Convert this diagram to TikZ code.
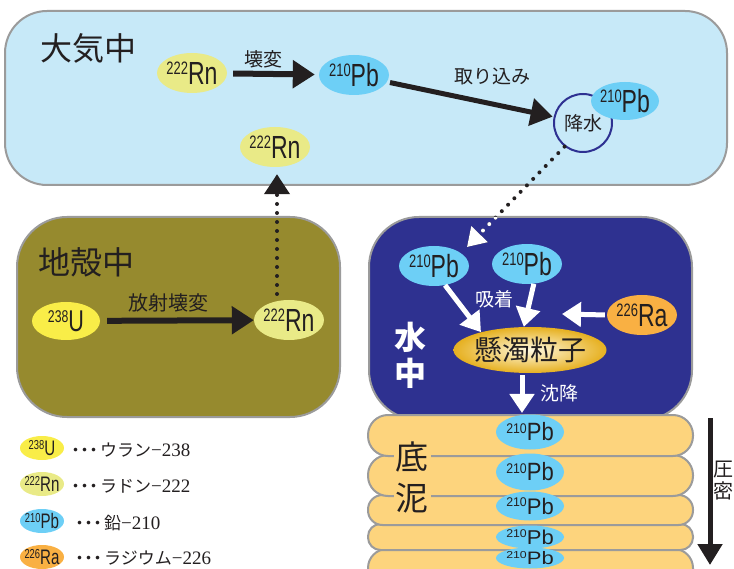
\documentclass[tikz,border=0pt]{standalone}
\usepackage{graphicx}
\usepackage{fontspec}
\setmainfont{Noto Sans CJK JP}
\newfontfamily\condf[FakeStretch=0.72]{Liberation Sans}
\newfontfamily\condg[FakeStretch=0.88]{Liberation Sans}
\newfontfamily\serf{Liberation Serif}
\usetikzlibrary{shapes.geometric,arrows.meta}

\definecolor{airfill}{HTML}{C7E9F8}
\definecolor{boxline}{HTML}{9B9B9B}
\definecolor{crustfill}{HTML}{968A2E}
\definecolor{waterfill}{HTML}{2E3190}
\definecolor{sedfill}{HTML}{FDD47D}
\definecolor{pbcol}{HTML}{6DCFF6}
\definecolor{rncol}{HTML}{E9EA87}
\definecolor{ucol}{HTML}{F9ED48}
\definecolor{racol}{HTML}{F9B043}
\definecolor{ink}{HTML}{231F20}
\definecolor{raincol}{HTML}{2E3192}
\definecolor{goldcol}{HTML}{E6B020}
\definecolor{paleyel}{HTML}{FFF9E0}

\newcommand\isotope[5]{{#1\fontsize{#2}{#2}\selectfont\raisebox{\dimexpr(#3pt-#2pt)*716/1000\relax}{#4}}{#1\fontsize{#3}{#3}\selectfont #5}}
\newcommand\isoL[2]{\isotope{\condf}{18}{32}{#1}{#2}}
\newcommand\isoS[2]{\isotope{\condf}{13}{21}{#1}{#2}}
\newcommand\isoD[2]{\isotope{\condg}{14}{25}{#1}{#2}}
\newcommand\tridots{\makebox[9pt]{・}\makebox[9pt]{・}\makebox[9pt]{・}\kern2pt}

\begin{document}
\begin{tikzpicture}[x=1pt,y=-1pt,
  container/.style={draw=boxline, line width=2pt, rectangle, inner sep=0pt},
  iso/.style={ellipse, fill=#1, inner sep=0pt, minimum width=70pt, minimum height=40pt},
  lab/.style={text=ink, inner sep=0pt},
  jp/.style={font=\fontsize{#1}{#1}\selectfont, inner sep=0pt},
  title/.style={font=\fontsize{32}{32}\selectfont, text=ink, inner sep=0pt},
  blackarrow/.style={draw=ink, line width=6pt, -{Triangle[length=22pt,width=27pt]}},
  whitearrow/.style={draw=white, line width=5pt, -{Triangle[length=19pt,width=24pt]}},
  dotline/.style={line width=4pt, dash pattern=on 0pt off 9pt, line cap=round},
  sedlayer/.style={draw=boxline, line width=2pt, fill=sedfill},
  legtext/.style={anchor=west, font=\fontsize{17}{17}\selectfont, text=ink, inner sep=0pt}
]
\useasboundingbox (0,0) rectangle (734,569);

% ---------- atmosphere ----------
\node[container, fill=airfill, minimum width=722pt, minimum height=174pt, rounded corners=42pt] (air) at (366,98) {};
\node[title] (airT) at (88,48) {大気中};
\node[iso=rncol, label={[lab]center:\isoL{222}{Rn}}] (rnA) at (192,73) {};
\node[iso=pbcol, label={[lab]center:\isoL{210}{Pb}}] (pbA) at (354,75) {};
\draw[blackarrow, shorten <=6pt, shorten >=4pt] (rnA) -- (pbA);
\node[jp=19, text=ink] (decayA) at (263,59) {壊変};
\node[circle, draw=raincol, line width=2pt, fill=airfill, minimum size=58pt, inner sep=0pt, font=\fontsize{19}{19}\selectfont, text=ink] (rain) at (583,123) {降水};
\node[iso=pbcol, minimum width=68pt, minimum height=38pt, label={[lab]center:\isoL{210}{Pb}}] (pbR) at (625,101) {};
\draw[blackarrow, line width=5pt, shorten <=3pt, shorten >=1pt] (pbA) -- (rain);
\node[jp=19, text=ink] (takeT) at (492,76) {取り込み};
\node[iso=rncol, label={[lab]center:\isoL{222}{Rn}}] (rnB) at (275,147) {};

% ---------- crust ----------
\node[container, fill=crustfill, minimum width=323pt, minimum height=200pt, rounded corners=50pt] (crust) at (178.5,317) {};
\node[title] (crustT) at (86,262) {地殻中};
\node[iso=ucol, minimum width=68pt, minimum height=38pt, label={[lab]center:\isotope{\condf}{17}{30}{238}{U}}] (uC) at (66,321) {};
\node[iso=rncol, label={[lab]center:\isoL{222}{Rn}}] (rnC) at (289,320) {};
\draw[blackarrow, shorten <=7pt, shorten >=0pt] (uC) -- (rnC);
\node[jp=20, text=ink] (decayC) at (168,303) {放射壊変};
\coordinate (dotStart) at (277,294);
\draw[dotline, draw=ink, -{Triangle[length=20pt,width=25pt]}, shorten >=7pt] (dotStart) -- (dotStart |- rnB.south);

% ---------- water ----------
\node[container, fill=waterfill, minimum width=323pt, minimum height=203pt, rounded corners=50pt] (water) at (530.5,318.5) {};
\node[jp=32, text=white, font=\fontsize{32}{32}\selectfont\bfseries] (waterT1) at (410,337) {水};
\node[jp=32, text=white, font=\fontsize{32}{32}\selectfont\bfseries] (waterT2) at (410,373) {中};
\node[iso=pbcol, label={[lab]center:\isoL{210}{Pb}}] (pbW1) at (434,266) {};
\node[iso=pbcol, label={[lab]center:\isoL{210}{Pb}}] (pbW2) at (527,264) {};
\node[iso=racol, label={[lab]center:\isoL{226}{Ra}}] (ra) at (642,315) {};
\node[ellipse, inner color=paleyel, outer color=goldcol, minimum width=153pt, minimum height=46pt, inner sep=0pt,
      label={[text=ink, inner sep=0pt, font=\fontsize{28}{28}\selectfont]center:懸濁粒子}] (particle) at (530,350) {};
\draw[whitearrow] (pbW1.-60) -- (particle.160);
\draw[whitearrow] (pbW2.-71) -- (particle.105);
\coordinate (raEnd) at (562,314);
\draw[whitearrow, shorten <=2pt] (ra.west) -- (raEnd);
\node[jp=19, text=white] (adsT) at (494,299) {吸着};
\coordinate (sinkEnd) at (522,413);
\draw[whitearrow, shorten <=2pt] (particle.south -| sinkEnd) -- (sinkEnd);
\node[jp=19, text=white] (sinkT) at (559,393) {沈降};

% dotted rain path (black outside, white inside water)
\coordinate (dropTip) at (467,247);
\draw[dotline, draw=ink, -{Triangle[length=18pt,width=22pt]}] (rain.232) -- (dropTip);
\begin{scope}
  \clip[rounded corners=50pt] (369,217) rectangle (692,420);
  \draw[dotline, draw=white, -{Triangle[length=18pt,width=22pt]}] (rain.232) -- (dropTip);
\end{scope}

% ---------- sediment ----------
\draw[sedlayer, rounded corners=19pt] (368,549) rectangle (693,590);
\draw[sedlayer, rounded corners=12.5pt] (368,524) rectangle (693,550);
\draw[sedlayer, rounded corners=14.5pt] (368,495) rectangle (693,525);
\draw[sedlayer, rounded corners=20pt] (368,455) rectangle (693,496);
\draw[sedlayer, rounded corners=20pt] (368,415) rectangle (693,456);
\node[fill=sedfill, inner sep=2pt, font=\fontsize{33}{33}\selectfont, text=ink] (sedT1) at (412,457) {底};
\node[fill=sedfill, inner sep=2pt, font=\fontsize{33}{33}\selectfont, text=ink] (sedT2) at (412,498) {泥};
\node[iso=pbcol, minimum width=68pt, minimum height=35pt, label={[lab]center:\isoD{210}{Pb}}] (pbS1) at (530,432) {};
\node[iso=pbcol, minimum width=68pt, minimum height=37pt, label={[lab]center:\isoD{210}{Pb}}] (pbS2) at (530,472) {};
\node[iso=pbcol, minimum width=68pt, minimum height=29pt, label={[lab]center:\scalebox{1}[0.9]{\isoD{210}{Pb}}}] (pbS3) at (530,506) {};
\node[iso=pbcol, minimum width=68pt, minimum height=23pt, label={[lab]center:\scalebox{1}[0.8]{\isoD{210}{Pb}}}] (pbS4) at (530,537) {};
\node[iso=pbcol, minimum width=68pt, minimum height=21pt, label={[lab]center:\scalebox{1}[0.72]{\isoD{210}{Pb}}}] (pbS5) at (530,558) {};

% compaction arrow
\coordinate (pressTop) at (710,418);
\coordinate (pressBot) at (710,565);
\draw[draw=ink, line width=5pt, -{Triangle[length=21pt,width=24pt]}] (pressTop) -- (pressBot);
\node[jp=20, text=ink] (pressT1) at (723,470) {圧};
\node[jp=20, text=ink] (pressT2) at (723,491) {密};

% ---------- legend ----------
\node[iso=ucol, minimum width=44pt, minimum height=24pt, label={[lab]center:\isoS{238}{U}}] (lgU) at (42,448) {};
\node[legtext] (lgUT) at (71,450) {\tridots ウラン{\serf\fontsize{19}{19}\selectfont −238}};
\node[iso=rncol, minimum width=44pt, minimum height=24pt, label={[lab]center:\isoS{222}{Rn}}] (lgRn) at (42,484) {};
\node[legtext] (lgRnT) at (71,486) {\tridots ラドン{\serf\fontsize{19}{19}\selectfont −222}};
\node[iso=pbcol, minimum width=44pt, minimum height=24pt, label={[lab]center:\isoS{210}{Pb}}] (lgPb) at (42,521) {};
\node[legtext] (lgPbT) at (75,523) {\tridots 鉛{\serf\fontsize{19}{19}\selectfont −210}};
\node[iso=racol, minimum width=44pt, minimum height=24pt, label={[lab]center:\isoS{226}{Ra}}] (lgRa) at (42,557) {};
\node[legtext] (lgRaT) at (75,558) {\tridots ラジウム{\serf\fontsize{19}{19}\selectfont −226}};
\end{tikzpicture}
\end{document}
